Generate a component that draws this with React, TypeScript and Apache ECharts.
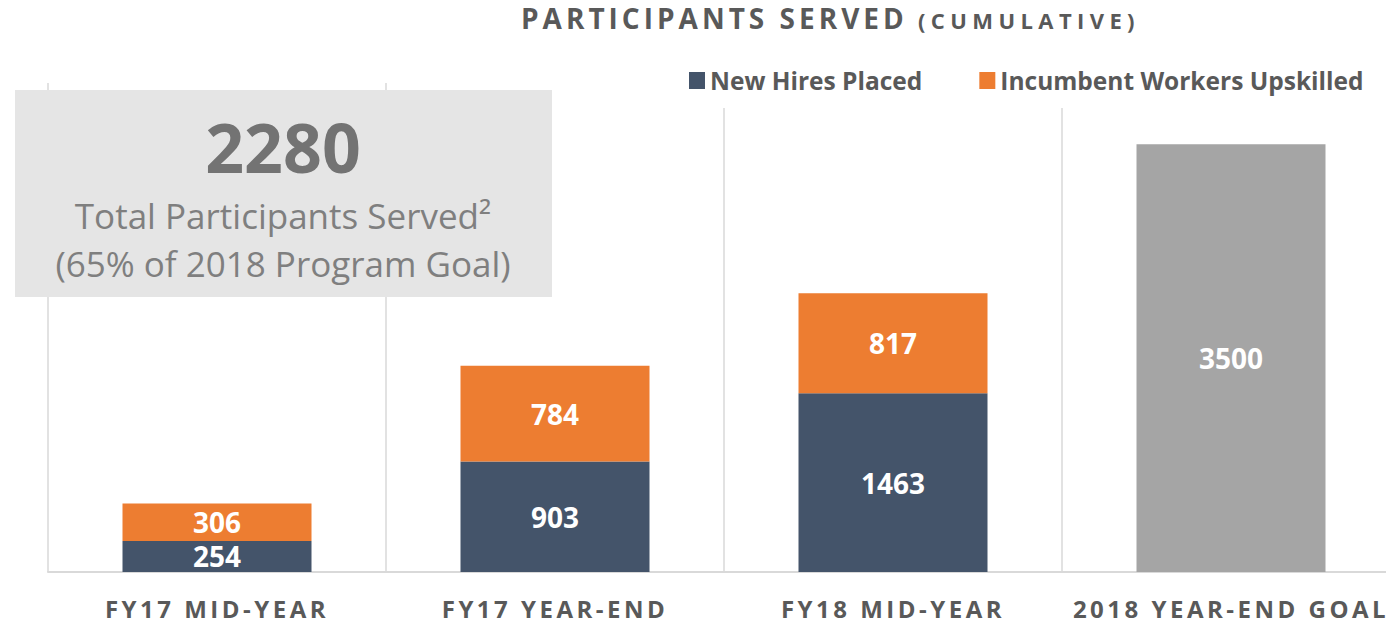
import React, { useEffect, useRef } from "react";
import * as echarts from "echarts";

const categories = ["FY17 MID-YEAR", "FY17 YEAR-END", "FY18 MID-YEAR", "2018 YEAR-END GOAL"];
const newHiresPlaced = [254, 903, 1463, null];
const incumbentUpskilled = [306, 784, 817, null];
const programGoal = [null, null, null, 3500];
const seriesNames = ["New Hires Placed", "Incumbent Workers Upskilled"];
const totalServed = "2280";
const totalLine1 = "Total Participants Served\u00B2";
const totalLine2 = "(65% of 2018 Program Goal)";
const titleMain = "PARTICIPANTS SERVED";
const titleSub = "(CUMULATIVE)";

const FONT = "'Open Sans', 'DejaVu Sans', sans-serif";

export default function App() {
  const ref = useRef<HTMLDivElement>(null);

  useEffect(() => {
    document.body.style.margin = "0";
    document.body.style.overflow = "hidden";
    const el = ref.current!;
    const chart = echarts.init(el, undefined, { renderer: "svg" });

    const labelStyle = {
      show: true,
      position: "inside",
      color: "#ffffff",
      fontSize: 28,
      fontWeight: "bold",
      fontFamily: FONT,
    };

    chart.setOption({
      animation: false,
      grid: { left: 48, top: 83, right: 20, height: 489 },
      legend: {
        data: seriesNames,
        left: 677,
        top: 60,
        padding: [8, 12, 15, 12],
        backgroundColor: "#ffffff",
        icon: "rect",
        itemWidth: 16,
        itemHeight: 17,
        itemGap: 57,
        textStyle: { fontSize: 24.5, fontWeight: "bold", color: "#595959", fontFamily: FONT },
        z: 10,
      },
      xAxis: {
        type: "category",
        data: categories,
        axisLine: { show: true, lineStyle: { color: "#d9d9d9", width: 2 } },
        axisTick: { show: false },
        splitLine: { show: true, lineStyle: { color: "#d9d9d9", width: 1.5 } },
        axisLabel: {
          interval: 0,
          fontSize: 24,
          fontWeight: "bold",
          color: "#595959",
          margin: 24,
          fontFamily: FONT,
        },
      },
      yAxis: { type: "value", min: 0, max: 4000, show: false, splitLine: { show: false } },
      series: [
        {
          name: seriesNames[0],
          type: "bar",
          stack: "total",
          data: newHiresPlaced,
          barWidth: 189,
          itemStyle: { color: "#44546a" },
          label: labelStyle,
        },
        {
          name: seriesNames[1],
          type: "bar",
          stack: "total",
          data: incumbentUpskilled,
          barWidth: 189,
          itemStyle: { color: "#ed7d31" },
          label: labelStyle,
        },
        {
          name: "2018 Goal",
          type: "bar",
          stack: "total",
          data: programGoal,
          barWidth: 189,
          itemStyle: { color: "#a5a5a5" },
          label: labelStyle,
        },
      ],
      graphic: [
        {
          type: "text",
          left: 521,
          top: 4,
          z: 100,
          style: { text: titleMain, fontSize: 28, fontWeight: "bold", fill: "#595959", fontFamily: FONT },
        },
        {
          type: "text",
          left: 918,
          top: 9,
          z: 100,
          style: { text: titleSub, fontSize: 22, fontWeight: "bold", fill: "#595959", fontFamily: FONT },
        },
        {
          type: "group",
          left: 15,
          top: 90,
          z: 100,
          children: [
            {
              type: "rect",
              shape: { x: 0, y: 0, width: 537, height: 207 },
              style: { fill: "#e5e5e5" },
              z: 100,
            },
            {
              type: "text",
              x: 268,
              y: 56,
              z: 101,
              style: {
                text: totalServed,
                fontSize: 68,
                fontWeight: "bold",
                fill: "#737373",
                fontFamily: FONT,
                align: "center",
                verticalAlign: "middle",
              },
            },
            {
              type: "text",
              x: 268,
              y: 125,
              z: 101,
              style: {
                text: totalLine1,
                fontSize: 35,
                fill: "#7f7f7f",
                fontFamily: FONT,
                align: "center",
                verticalAlign: "middle",
              },
            },
            {
              type: "text",
              x: 268,
              y: 173,
              z: 101,
              style: {
                text: totalLine2,
                fontSize: 35,
                fill: "#7f7f7f",
                fontFamily: FONT,
                align: "center",
                verticalAlign: "middle",
              },
            },
          ],
        },
      ],
    });

    const spacing: Record<string, string> = {};
    categories.forEach((c) => (spacing[c] = "3.5px"));
    spacing[titleMain] = "4px";
    spacing[titleSub] = "5.4px";

    const applySpacing = () => {
      el.querySelectorAll("text").forEach((t) => {
        const s = spacing[(t.textContent || "").trim()];
        if (s) t.setAttribute("letter-spacing", s);
      });
    };
    applySpacing();
    chart.on("finished", applySpacing);
    const timer = setTimeout(applySpacing, 50);

    return () => {
      clearTimeout(timer);
      chart.dispose();
    };
  }, []);

  return <div ref={ref} style={{ width: 1420, height: 623 }} />;
}
